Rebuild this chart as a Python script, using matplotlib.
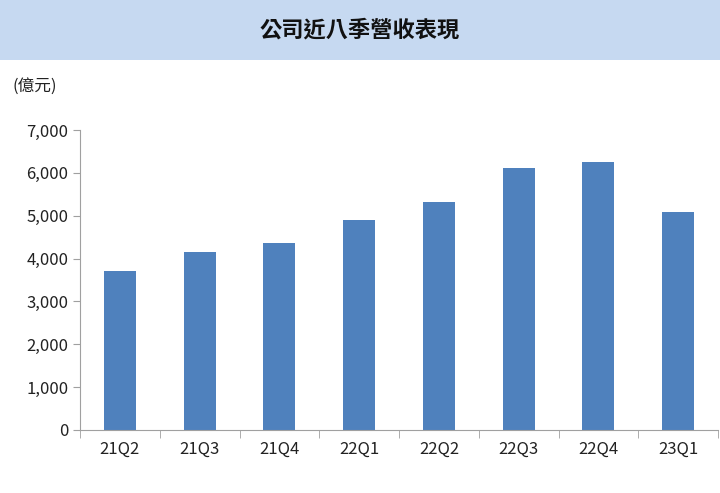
import matplotlib
matplotlib.use("Agg")
import matplotlib.pyplot as plt
from matplotlib.patches import Rectangle

plt.rcParams['font.family'] = ['Noto Sans CJK TC', 'DejaVu Sans']

categories = ["21Q2", "21Q3", "21Q4", "22Q1", "22Q2", "22Q3", "22Q4", "23Q1"]
revenue = [3710, 4150, 4360, 4900, 5320, 6110, 6250, 5090]
yticks = [0, 1000, 2000, 3000, 4000, 5000, 6000, 7000]

fig = plt.figure(figsize=(7.2, 4.93), dpi=100)
fig.patches.append(Rectangle((0, 1 - 60/493), 1, 60/493, transform=fig.transFigure,
                             facecolor="#c6d9f1", edgecolor="none", zorder=0))
fig.text(0.5, 1 - 30/493, "公司近八季營收表現", ha="center", va="center",
         fontsize=16, fontweight="bold", color="#111111")
fig.text(12/720, 1 - 86/493, "(億元)", ha="left", va="center", fontsize=12, color="#222222")

ax = fig.add_axes([80/720, 63/493, 638/720, 300/493])
x = range(len(categories))
ax.bar(x, revenue, width=0.4, color="#4f81bd")
ax.set_xlim(-0.5, len(categories) - 0.5)
ax.set_ylim(0, 7000)
ax.set_yticks(yticks)
ax.set_yticklabels([f"{v:,}" for v in yticks])
ax.set_xticks(list(x))
ax.set_xticklabels(categories)
for s in ["top", "right"]:
    ax.spines[s].set_visible(False)
for s in ["left", "bottom"]:
    ax.spines[s].set_color("#a0a0a0")
ax.tick_params(axis="both", labelsize=12, colors="#222222")
ax.tick_params(axis="x", length=0, pad=8)
ax.tick_params(axis="y", color="#a0a0a0", length=5)
# category separators on x-axis
ax.set_xticks([i - 0.5 for i in range(len(categories) + 1)], minor=True)
ax.tick_params(axis="x", which="minor", length=6, color="#a0a0a0")

fig.savefig("out.png", dpi=100)
